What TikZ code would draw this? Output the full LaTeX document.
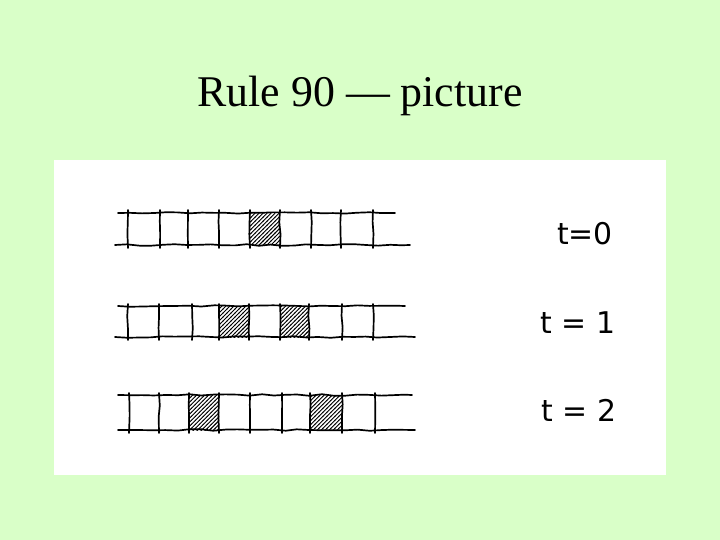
\documentclass[tikz,border=0pt]{standalone}
\usepackage{fontspec}
\setmainfont{Liberation Serif}
\newfontfamily\handfont{DejaVu Sans}
\usetikzlibrary{patterns.meta,decorations.pathmorphing}
\definecolor{bgreen}{HTML}{D9FFC8}
\tikzdeclarepattern{
  name=thickhatch, type=uncolored,
  bounding box={(-0.5pt,-0.5pt) and (4.5pt,4.5pt)},
  tile size={(4pt,4pt)},
  code={\pgfsetlinewidth{0.9pt}
    \pgfpathmoveto{\pgfqpoint{-0.5pt}{-0.5pt}}
    \pgfpathlineto{\pgfqpoint{4.5pt}{4.5pt}}
    \pgfusepath{stroke}}
}
\tikzset{
  sketch/.style={line width=1.7pt, line cap=round, decorate,
    decoration={random steps, segment length=12pt, amplitude=0.8pt}},
  hatch/.style={pattern=thickhatch, pattern color=black},
  tlabel/.style={font=\handfont\fontsize{30}{30}\selectfont, inner sep=0pt},
  title/.style={font=\fontsize{44}{48}\selectfont, inner sep=0pt}
}
\begin{document}
\begin{tikzpicture}[x=1bp,y=-1bp]
\pgfmathsetseed{7}
\fill[bgreen] (0,0) rectangle (720,540);
\useasboundingbox (0,0) rectangle (720,540);
\fill[white] (54,160) rectangle (666,475);
\node[title] (ttl) at (360,96) {Rule 90 — picture};
% row t=0
\fill[hatch] (250,214) rectangle (280,245);
\draw[sketch] (118,213) -- (395,213);
\draw[sketch] (115,245) -- (410,245);
\foreach \x in {128,160,188,219,250,280,311,341,373}
  \draw[sketch] (\x,210) -- (\x,248);
% row t=1
\fill[hatch] (219,306) rectangle (249,337);
\fill[hatch] (280,306) rectangle (309,337);
\draw[sketch] (118,306) -- (405,306);
\draw[sketch] (115,337) -- (415,337);
\foreach \x in {128,159,192,219,249,280,309,342,373}
  \draw[sketch] (\x,304) -- (\x,340);
% row t=2
\fill[hatch] (189,395) rectangle (219,430);
\fill[hatch] (310,395) rectangle (342,430);
\draw[sketch] (118,395) -- (412,395);
\draw[sketch] (118,430) -- (415,430);
\foreach \x in {129,159,189,219,250,282,310,342,375}
  \draw[sketch] (\x,393) -- (\x,433);
% labels
\node[tlabel] (t0) at (585,234) {t=0};
\node[tlabel] (t1) at (578,323) {t = 1};
\node[tlabel] (t2) at (579,410) {t = 2};
\end{tikzpicture}
\end{document}
